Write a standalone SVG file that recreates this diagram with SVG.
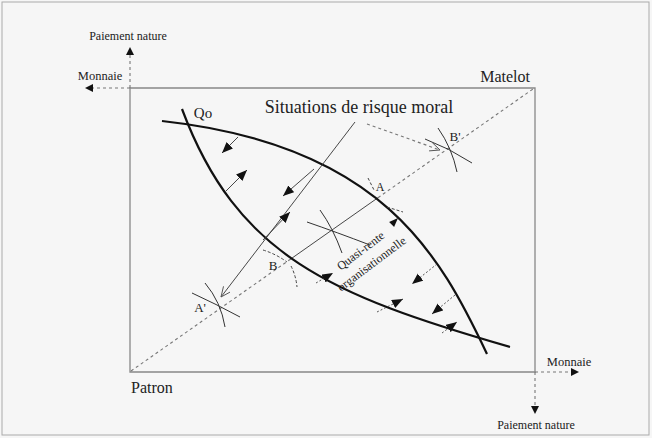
<svg xmlns="http://www.w3.org/2000/svg" width="652" height="438" viewBox="0 0 652 438">
<style>
text{font-family:"Liberation Serif","Times New Roman",serif;fill:#222}
.frame{fill:none;stroke:#888;stroke-width:1.3}
.dot{fill:none;stroke:#777;stroke-width:1.1;stroke-dasharray:3 3}
.curve{fill:none;stroke:#111;stroke-width:2.2}
.thin{fill:none;stroke:#333;stroke-width:0.9}
.thindot{fill:none;stroke:#444;stroke-width:0.9;stroke-dasharray:2 2}
.xm{fill:none;stroke:#333;stroke-width:1}
.xd{fill:none;stroke:#444;stroke-width:1;stroke-dasharray:3 2}
.tri{fill:#111}
</style>
<defs>
<marker id="ah" markerUnits="userSpaceOnUse" markerWidth="12" markerHeight="10" refX="11" refY="4.5" orient="auto"><path d="M0,0 L11,4.5 L0,9 z" fill="#111"/></marker>
<marker id="oa" markerUnits="userSpaceOnUse" markerWidth="12" markerHeight="10" refX="10" refY="4.5" orient="auto"><path d="M0,0 L10,4.5 L0,9" fill="none" stroke="#555" stroke-width="0.9"/></marker>
</defs>
<rect x="0" y="0" width="652" height="438" fill="#f6f6f6"/>
<rect x="2" y="2" width="647" height="433" fill="none" stroke="#aaa" stroke-width="1"/>

<g id="axes">
<path class="frame" d="M130,88 H535 V372 H130 Z"/>
<path class="dot" d="M130,88 V55"/>
<path class="dot" d="M130,88 H93"/>
<path class="dot" d="M535,372 H571"/>
<path class="dot" d="M535,372 V406"/>
<polygon class="tri" points="130,47 126,55 134,55"/>
<polygon class="tri" points="85,88 93,84 93,92"/>
<polygon class="tri" points="579,372 571,368 571,376"/>
<polygon class="tri" points="535,414 531,406 539,406"/>
<text x="128" y="40" font-size="12" text-anchor="middle">Paiement nature</text>
<text x="100" y="80" font-size="12.5" text-anchor="middle">Monnaie</text>
<text x="569" y="366" font-size="12.5" text-anchor="middle">Monnaie</text>
<text x="536" y="429" font-size="12" text-anchor="middle">Paiement nature</text>
</g>

<g id="matelot"><text x="530" y="82" font-size="16" text-anchor="end">Matelot</text></g>
<g id="patron"><text x="131" y="393" font-size="16">Patron</text></g>
<g id="title"><text x="359" y="113" font-size="18" text-anchor="middle">Situations de risque moral</text></g>

<g id="connectors">
<path class="dot" d="M131,371 L290,259.5"/>
<path class="thin" d="M290,259.5 L378,197.7"/>
<path class="dot" d="M378,197.7 L533,89"/>
<path class="curve" d="M162,121 C382,145 440,255 487,354"/>
<path class="curve" d="M182,109 C237,256 330,295 510,347"/>
<line class="thin" x1="355" y1="122" x2="221" y2="297" marker-end="url(#oa)"/>
<line class="dot" x1="367" y1="124" x2="440" y2="150" marker-end="url(#oa)"/>
<line class="thin" x1="238" y1="137" x2="222" y2="153" marker-end="url(#ah)"/>
<line class="thin" x1="314" y1="169" x2="283" y2="196" marker-end="url(#ah)"/>
<line class="thindot" x1="437" y1="264" x2="412" y2="284" marker-end="url(#ah)"/>
<line class="thindot" x1="455" y1="295" x2="432" y2="314" marker-end="url(#ah)"/>
<line class="thin" x1="226" y1="191" x2="247" y2="170" marker-end="url(#ah)"/>
<line class="thin" x1="263" y1="240" x2="290" y2="212" marker-end="url(#ah)"/>
<line class="thindot" x1="316" y1="283" x2="333" y2="273" marker-end="url(#ah)"/>
<line class="thindot" x1="377" y1="312" x2="403" y2="299" marker-end="url(#ah)"/>
<line class="thindot" x1="442" y1="333" x2="457" y2="322" marker-end="url(#ah)"/>
<polygon class="tri" points="398,218 394.1,226.9 389.1,221.9"/>
</g>

<g id="Qo"><text x="203" y="118" font-size="15" text-anchor="middle">Qo</text></g>
<g id="A">
<path class="xd" d="M368,178 L374,190"/>
<path class="xd" d="M387,207 L403,212"/>
<text x="380" y="191" font-size="12" text-anchor="middle">A</text>
</g>
<g id="B">
<path class="xd" d="M263,250 Q276,254 287,262"/>
<path class="xd" d="M291,266 Q296,276 297,287"/>
<text x="273" y="270" font-size="13" text-anchor="middle">B</text>
</g>
<g id="A-prime">
<path class="xm" d="M205,283 Q221,302 225,327"/>
<path class="xm" d="M192,293 Q216,304 240,317"/>
<text x="200" y="312" font-size="13" text-anchor="middle">A'</text>
</g>
<g id="B-prime">
<path class="xm" d="M438,128 Q452,148 457,172"/>
<path class="xm" d="M425,139 Q449,148 472,163"/>
<text x="455" y="141" font-size="13" text-anchor="middle">B'</text>
</g>
<g id="mid-x">
<path class="xm" d="M320,210 Q333,228 342,253"/>
<path class="xm" d="M307,222 Q336,232 370,245"/>
</g>
<g id="quasi-rente">
<text transform="translate(363,254) rotate(-37)" font-size="12" text-anchor="middle">Quasi-rente</text>
<text transform="translate(374,267) rotate(-37)" font-size="12" text-anchor="middle">organisationnelle</text>
</g>
</svg>
